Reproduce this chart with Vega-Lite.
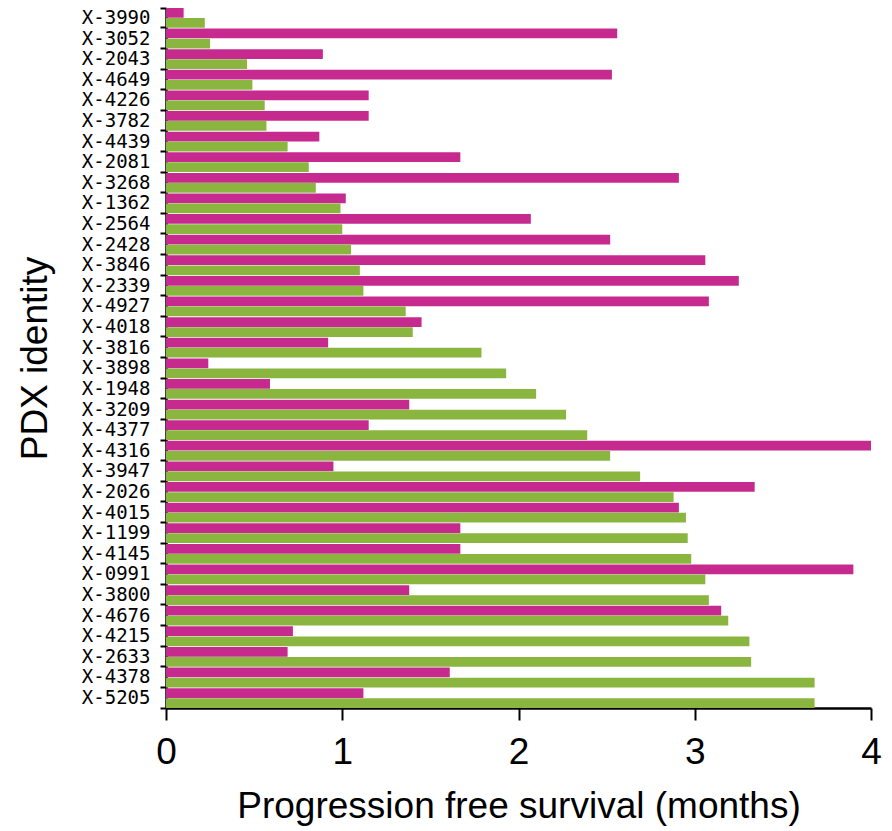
{
  "$schema": "https://vega.github.io/schema/vega-lite/v6.json",
  "autosize": "none",
  "width": 705,
  "height": 700,
  "padding": {"left": 166, "top": 8, "right": 21, "bottom": 123},
  "background": "white",
  "config": {
    "view": {"stroke": null},
    "axis": {"grid": false, "domainColor": "black", "tickColor": "black", "labelColor": "black", "titleColor": "black", "titleFontWeight": "normal", "labelFont": "Liberation Sans", "titleFont": "Liberation Sans"}
  },
  "data": {
    "values": [
      {"pdx": "X-3990", "group": "1", "months": 0.10}, {"pdx": "X-3990", "group": "2", "months": 0.22},
      {"pdx": "X-3052", "group": "1", "months": 2.56}, {"pdx": "X-3052", "group": "2", "months": 0.25},
      {"pdx": "X-2043", "group": "1", "months": 0.89}, {"pdx": "X-2043", "group": "2", "months": 0.46},
      {"pdx": "X-4649", "group": "1", "months": 2.53}, {"pdx": "X-4649", "group": "2", "months": 0.49},
      {"pdx": "X-4226", "group": "1", "months": 1.15}, {"pdx": "X-4226", "group": "2", "months": 0.56},
      {"pdx": "X-3782", "group": "1", "months": 1.15}, {"pdx": "X-3782", "group": "2", "months": 0.57},
      {"pdx": "X-4439", "group": "1", "months": 0.87}, {"pdx": "X-4439", "group": "2", "months": 0.69},
      {"pdx": "X-2081", "group": "1", "months": 1.67}, {"pdx": "X-2081", "group": "2", "months": 0.81},
      {"pdx": "X-3268", "group": "1", "months": 2.91}, {"pdx": "X-3268", "group": "2", "months": 0.85},
      {"pdx": "X-1362", "group": "1", "months": 1.02}, {"pdx": "X-1362", "group": "2", "months": 0.99},
      {"pdx": "X-2564", "group": "1", "months": 2.07}, {"pdx": "X-2564", "group": "2", "months": 1.00},
      {"pdx": "X-2428", "group": "1", "months": 2.52}, {"pdx": "X-2428", "group": "2", "months": 1.05},
      {"pdx": "X-3846", "group": "1", "months": 3.06}, {"pdx": "X-3846", "group": "2", "months": 1.10},
      {"pdx": "X-2339", "group": "1", "months": 3.25}, {"pdx": "X-2339", "group": "2", "months": 1.12},
      {"pdx": "X-4927", "group": "1", "months": 3.08}, {"pdx": "X-4927", "group": "2", "months": 1.36},
      {"pdx": "X-4018", "group": "1", "months": 1.45}, {"pdx": "X-4018", "group": "2", "months": 1.40},
      {"pdx": "X-3816", "group": "1", "months": 0.92}, {"pdx": "X-3816", "group": "2", "months": 1.79},
      {"pdx": "X-3898", "group": "1", "months": 0.24}, {"pdx": "X-3898", "group": "2", "months": 1.93},
      {"pdx": "X-1948", "group": "1", "months": 0.59}, {"pdx": "X-1948", "group": "2", "months": 2.10},
      {"pdx": "X-3209", "group": "1", "months": 1.38}, {"pdx": "X-3209", "group": "2", "months": 2.27},
      {"pdx": "X-4377", "group": "1", "months": 1.15}, {"pdx": "X-4377", "group": "2", "months": 2.39},
      {"pdx": "X-4316", "group": "1", "months": 4.00}, {"pdx": "X-4316", "group": "2", "months": 2.52},
      {"pdx": "X-3947", "group": "1", "months": 0.95}, {"pdx": "X-3947", "group": "2", "months": 2.69},
      {"pdx": "X-2026", "group": "1", "months": 3.34}, {"pdx": "X-2026", "group": "2", "months": 2.88},
      {"pdx": "X-4015", "group": "1", "months": 2.91}, {"pdx": "X-4015", "group": "2", "months": 2.95},
      {"pdx": "X-1199", "group": "1", "months": 1.67}, {"pdx": "X-1199", "group": "2", "months": 2.96},
      {"pdx": "X-4145", "group": "1", "months": 1.67}, {"pdx": "X-4145", "group": "2", "months": 2.98},
      {"pdx": "X-0991", "group": "1", "months": 3.90}, {"pdx": "X-0991", "group": "2", "months": 3.06},
      {"pdx": "X-3800", "group": "1", "months": 1.38}, {"pdx": "X-3800", "group": "2", "months": 3.08},
      {"pdx": "X-4676", "group": "1", "months": 3.15}, {"pdx": "X-4676", "group": "2", "months": 3.19},
      {"pdx": "X-4215", "group": "1", "months": 0.72}, {"pdx": "X-4215", "group": "2", "months": 3.31},
      {"pdx": "X-2633", "group": "1", "months": 0.69}, {"pdx": "X-2633", "group": "2", "months": 3.32},
      {"pdx": "X-4378", "group": "1", "months": 1.61}, {"pdx": "X-4378", "group": "2", "months": 3.68},
      {"pdx": "X-5205", "group": "1", "months": 1.12}, {"pdx": "X-5205", "group": "2", "months": 3.68}
    ]
  },
  "mark": {"type": "bar", "clip": false},
  "encoding": {
    "y": {
      "field": "pdx",
      "type": "nominal",
      "sort": null,
      "scale": {"paddingInner": 0.04, "paddingOuter": 0},
      "axis": {
        "title": "PDX identity",
        "titleFontSize": 37,
        "titleAngle": -90,
        "titleX": -131,
        "titleY": 350,
        "titleAlign": "center",
        "titleBaseline": "middle",
        "labelFont": "DejaVu Sans Mono",
        "labelFontSize": 19,
        "labelPadding": 10,
        "bandPosition": 1,
        "tickExtra": true,
        "tickSize": 6,
        "tickWidth": 2,
        "domainWidth": 2.5
      }
    },
    "yOffset": {"field": "group", "type": "nominal", "sort": ["1", "2"], "scale": {"paddingInner": 0.03}},
    "x": {
      "field": "months",
      "type": "quantitative",
      "scale": {"domain": [0, 4], "nice": false},
      "axis": {
        "title": "Progression free survival (months)",
        "titleFontSize": 37,
        "titleY": 98,
        "titleBaseline": "middle",
        "values": [0, 1, 2, 3, 4],
        "format": "d",
        "labelFontSize": 37,
        "labelPadding": 14,
        "labelFlush": false,
        "tickSize": 12,
        "tickWidth": 2,
        "domainWidth": 2.5
      }
    },
    "color": {
      "field": "group",
      "type": "nominal",
      "scale": {"domain": ["1", "2"], "range": ["#C72A8E", "#8AB640"]},
      "legend": null
    }
  }
}
